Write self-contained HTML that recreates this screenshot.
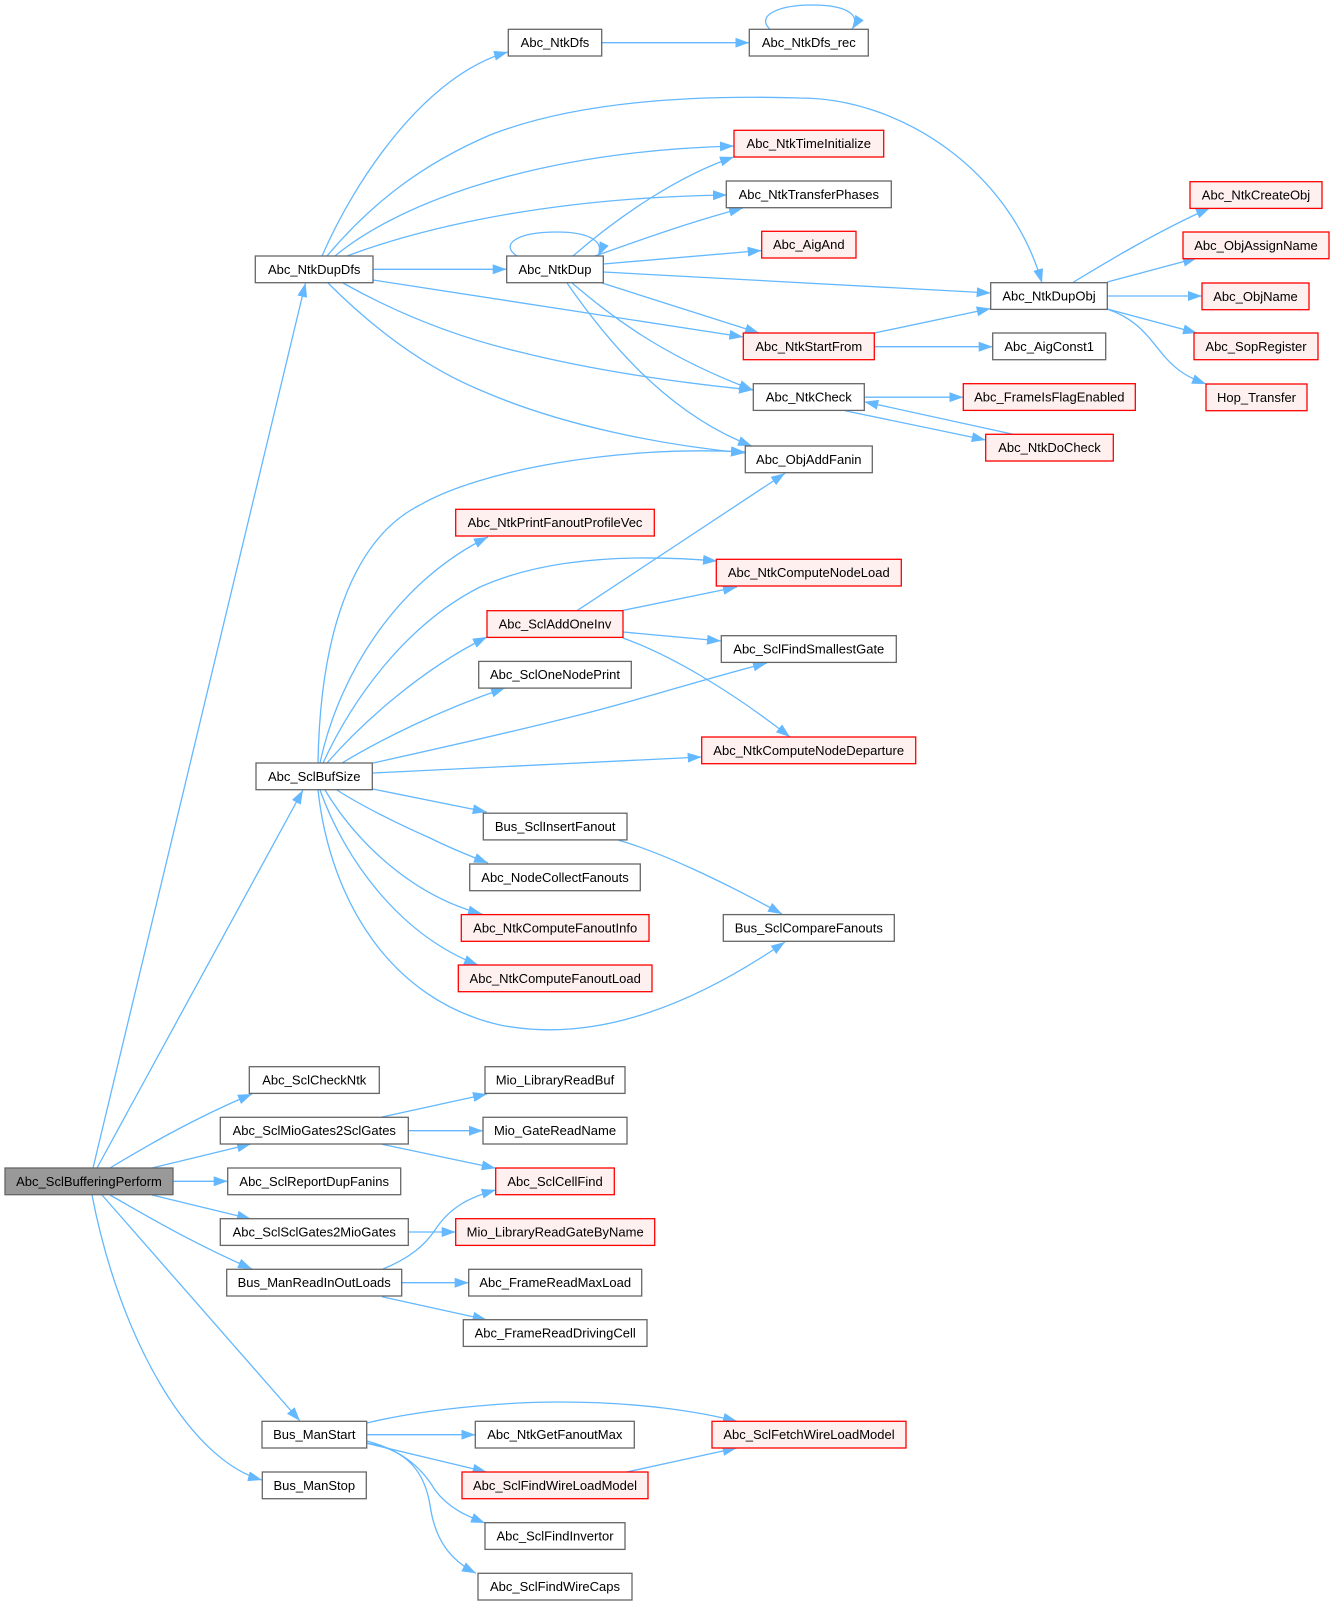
<!DOCTYPE html>
<html><head><meta charset="utf-8"><style>
html,body{margin:0;padding:0;background:#fff;}
svg{display:block;}
text{font-family:"Liberation Sans",Arial,Helvetica,sans-serif;font-size:13px;fill:#000;text-anchor:middle;}
.e{fill:none;stroke:#63b8ff;stroke-width:1.3;marker-end:url(#a);}
.n{fill:#fff;stroke:#666;stroke-width:1.3;}
.r{fill:#fff0f0;stroke:#ff0000;stroke-width:1.3;}
.g{fill:#999;stroke:#666;stroke-width:1.3;}
</style></head><body>
<svg width="1335" height="1605" viewBox="0 0 1335 1605" xmlns="http://www.w3.org/2000/svg">
<defs>
<marker id="a" markerUnits="userSpaceOnUse" markerWidth="16" markerHeight="12" refX="14" refY="5" orient="auto">
<path d="M0,0 L14,5 L0,10 z" fill="#63b8ff"/>
</marker>
</defs>
<g>
<path class="e" d="M93,1168 L305.5,283"/>
<path class="e" d="M97,1168 L303,790"/>
<path class="e" d="M110,1168 C140,1150 190,1120 252,1094"/>
<path class="e" d="M152,1168 L251,1144"/>
<path class="e" d="M173,1181.3 L227.7,1181.3"/>
<path class="e" d="M152,1195 L251,1219"/>
<path class="e" d="M110,1195 C140,1212 190,1242 252,1269"/>
<path class="e" d="M102,1195 L300,1421"/>
<path class="e" d="M92,1195 C120,1340 190,1460 262,1480"/>

<path class="e" d="M322,256 C355,180 425,75 508,52"/>
<path class="e" d="M327,256 C370,205 420,165 490,135 C580,100 700,95 800,98 C900,98 1010,170 1042,283"/>
<path class="e" d="M335,256 C390,210 520,152 734,146"/>
<path class="e" d="M347,256 C395,238 520,198 727,195"/>
<path class="e" d="M373,269.3 L506.7,269.3"/>
<path class="e" d="M373,280 L743.3,337"/>
<path class="e" d="M343,283 C400,315 460,338 520,352 C600,372 690,384 753,390"/>
<path class="e" d="M328,283 C370,325 420,365 480,390 C560,425 660,445 745,453"/>
<path class="e" d="M601.7,42.7 L749.3,42.7"/>
<path class="e" d="M770,29.3 C755,15 780,5 812,5 C845,5 862,14 852,29.3"/>
<path class="e" d="M517,256 C500,245 515,232 557,232 C590,232 605,242 598,256"/>
<path class="e" d="M573,256 C620,215 680,175 734,157"/>
<path class="e" d="M595,256 C640,240 690,222 743,208"/>
<path class="e" d="M603.3,264 L761.7,250.5"/>
<path class="e" d="M603.3,272 L990.7,293"/>
<path class="e" d="M602,283 L759,333"/>
<path class="e" d="M572,283 C610,315 660,355 753,390"/>
<path class="e" d="M567,283 C610,345 670,415 752,446"/>
<path class="e" d="M874.3,333 L990.7,308.5"/>
<path class="e" d="M874.3,346.7 L992.7,346.7"/>
<path class="e" d="M864.3,397.2 L963.3,397.2"/>
<path class="e" d="M845,410.7 L985.7,440"/>
<path class="e" d="M1013,434.3 L864.3,401.7"/>
<path class="e" d="M1072,283 C1110,260 1160,230 1210,208"/>
<path class="e" d="M1107.3,282 L1197,258"/>
<path class="e" d="M1107.3,296 L1202,296"/>
<path class="e" d="M1107.3,309 L1197,333"/>
<path class="e" d="M1107,309 C1140,320 1150,340 1165,357 C1178,372 1190,378 1206,384"/>

<path class="e" d="M318,763 C320,640 350,540 420,505 C480,470 620,445 745,452"/>
<path class="e" d="M320,763 C340,670 400,580 488,537"/>
<path class="e" d="M323,763 C352,700 405,625 480,587 C540,560 620,553 717,561"/>
<path class="e" d="M327,763 C360,725 420,670 487,637"/>
<path class="e" d="M342,763 C380,740 440,710 505,688"/>
<path class="e" d="M373,763 C450,746 520,730 575,716 C640,700 700,680 767,663"/>
<path class="e" d="M372.7,773 L701.7,757"/>
<path class="e" d="M372.7,789 L486.7,812"/>
<path class="e" d="M337,790 C360,805 400,825 430,838 C450,848 470,856 488,863"/>
<path class="e" d="M325,790 C355,840 410,895 482,914"/>
<path class="e" d="M320,790 C345,860 400,935 478,965"/>
<path class="e" d="M318,790 C330,900 390,1000 500,1025 C600,1045 700,1000 785,942"/>

<path class="e" d="M577,610.7 L785,473.3"/>
<path class="e" d="M620,611 L737,587"/>
<path class="e" d="M623,632 L721,641"/>
<path class="e" d="M623,638 C670,655 730,690 790,737"/>
<path class="e" d="M618,840 C660,852 720,880 782,914"/>

<path class="e" d="M382,1117 L487,1094"/>
<path class="e" d="M408.3,1130.7 L483,1130.7"/>
<path class="e" d="M382,1144.3 L495.7,1168.3"/>
<path class="e" d="M408.3,1232 L455.7,1232"/>
<path class="e" d="M383,1269 C410,1258 425,1245 435,1230 C450,1207 470,1197 495.7,1190"/>
<path class="e" d="M401.7,1282.7 L468.7,1282.7"/>
<path class="e" d="M382,1296.7 L486.7,1319.7"/>
<path class="e" d="M367,1423 C420,1410 500,1402 560,1402 C640,1402 700,1412 737,1421.3"/>
<path class="e" d="M366.7,1434.7 L475.3,1434.7"/>
<path class="e" d="M366.7,1443.3 L486.7,1472"/>
<path class="e" d="M367,1441 C400,1450 420,1465 435,1490 C450,1510 470,1517 485,1523"/>
<path class="e" d="M367,1443 C410,1450 425,1475 430,1505 C435,1540 450,1560 476,1573.3"/>
<path class="e" d="M626.7,1472 L736.7,1448"/>
</g>

<g>
<rect class="g" x="5" y="1168" width="168" height="26.7"/><text x="89" y="1185.8">Abc_SclBufferingPerform</text>
<rect class="n" x="255.3" y="256" width="117.7" height="26.7"/><text x="314.2" y="273.8">Abc_NtkDupDfs</text>
<rect class="n" x="256" y="763" width="116.3" height="26.7"/><text x="314.2" y="780.8">Abc_SclBufSize</text>
<rect class="n" x="249.3" y="1066.7" width="130" height="26.7"/><text x="314.3" y="1084.5">Abc_SclCheckNtk</text>
<rect class="n" x="220.3" y="1117.3" width="188" height="26.7"/><text x="314.3" y="1135.1">Abc_SclMioGates2SclGates</text>
<rect class="n" x="227.7" y="1168" width="173" height="26.7"/><text x="314.2" y="1185.8">Abc_SclReportDupFanins</text>
<rect class="n" x="220.3" y="1218.7" width="188" height="26.7"/><text x="314.3" y="1236.5">Abc_SclSclGates2MioGates</text>
<rect class="n" x="226.7" y="1269.3" width="175" height="26.7"/><text x="314.2" y="1287.1">Bus_ManReadInOutLoads</text>
<rect class="n" x="262" y="1421.3" width="104.7" height="26.7"/><text x="314.3" y="1439.1">Bus_ManStart</text>
<rect class="n" x="262.3" y="1472" width="104" height="26.7"/><text x="314.3" y="1489.8">Bus_ManStop</text>

<rect class="n" x="508.3" y="29.3" width="93.4" height="26.7"/><text x="555" y="47.1">Abc_NtkDfs</text>
<rect class="n" x="506.7" y="256" width="96.6" height="26.7"/><text x="555" y="273.8">Abc_NtkDup</text>
<rect class="r" x="455.7" y="509.3" width="198.6" height="26.7"/><text x="555" y="527.1">Abc_NtkPrintFanoutProfileVec</text>
<rect class="r" x="487" y="610.7" width="136" height="26.7"/><text x="555" y="628.5">Abc_SclAddOneInv</text>
<rect class="n" x="478.7" y="661.4" width="152.6" height="26.7"/><text x="555" y="679.2">Abc_SclOneNodePrint</text>
<rect class="n" x="483.3" y="813.2" width="143.7" height="26.7"/><text x="555.2" y="831">Bus_SclInsertFanout</text>
<rect class="n" x="469.7" y="864" width="170.6" height="26.7"/><text x="555" y="881.8">Abc_NodeCollectFanouts</text>
<rect class="r" x="461.3" y="914.6" width="187.7" height="26.7"/><text x="555.2" y="932.4">Abc_NtkComputeFanoutInfo</text>
<rect class="r" x="458.3" y="965" width="193.7" height="26.7"/><text x="555.2" y="982.8">Abc_NtkComputeFanoutLoad</text>
<rect class="n" x="485" y="1066.7" width="140" height="26.7"/><text x="555" y="1084.5">Mio_LibraryReadBuf</text>
<rect class="n" x="483" y="1117.3" width="144" height="26.7"/><text x="555" y="1135.1">Mio_GateReadName</text>
<rect class="r" x="495.7" y="1168" width="118.6" height="26.7"/><text x="555" y="1185.8">Abc_SclCellFind</text>
<rect class="r" x="455.7" y="1218.7" width="199" height="26.7"/><text x="555.2" y="1236.5">Mio_LibraryReadGateByName</text>
<rect class="n" x="468.7" y="1269.3" width="173" height="26.7"/><text x="555.2" y="1287.1">Abc_FrameReadMaxLoad</text>
<rect class="n" x="463.3" y="1319.7" width="183.7" height="26.7"/><text x="555.2" y="1337.5">Abc_FrameReadDrivingCell</text>
<rect class="n" x="475.3" y="1421.3" width="159" height="26.7"/><text x="554.8" y="1439.1">Abc_NtkGetFanoutMax</text>
<rect class="r" x="462" y="1472" width="186" height="26.7"/><text x="555" y="1489.8">Abc_SclFindWireLoadModel</text>
<rect class="n" x="485" y="1522.7" width="140" height="26.7"/><text x="555" y="1540.5">Abc_SclFindInvertor</text>
<rect class="n" x="478" y="1573.3" width="154" height="26.7"/><text x="555" y="1591.1">Abc_SclFindWireCaps</text>

<rect class="n" x="749.3" y="29.3" width="119" height="26.7"/><text x="808.8" y="47.1">Abc_NtkDfs_rec</text>
<rect class="r" x="734" y="130.3" width="149.7" height="26.7"/><text x="808.8" y="148.1">Abc_NtkTimeInitialize</text>
<rect class="n" x="726.3" y="181" width="165" height="26.7"/><text x="808.8" y="198.8">Abc_NtkTransferPhases</text>
<rect class="r" x="761.7" y="231.3" width="94.3" height="26.7"/><text x="808.8" y="249.1">Abc_AigAnd</text>
<rect class="r" x="743.3" y="333" width="131" height="26.7"/><text x="808.8" y="350.8">Abc_NtkStartFrom</text>
<rect class="n" x="753.3" y="383.7" width="111" height="26.7"/><text x="808.8" y="401.5">Abc_NtkCheck</text>
<rect class="n" x="745.3" y="446" width="127" height="26.7"/><text x="808.8" y="463.8">Abc_ObjAddFanin</text>
<rect class="r" x="716.3" y="559.3" width="185" height="26.7"/><text x="808.8" y="577.1">Abc_NtkComputeNodeLoad</text>
<rect class="n" x="721.3" y="635.7" width="175" height="26.7"/><text x="808.8" y="653.5">Abc_SclFindSmallestGate</text>
<rect class="r" x="701.7" y="737" width="214" height="26.7"/><text x="808.7" y="754.8">Abc_NtkComputeNodeDeparture</text>
<rect class="n" x="723.3" y="914.6" width="171" height="26.7"/><text x="808.8" y="932.4">Bus_SclCompareFanouts</text>
<rect class="r" x="712" y="1421.3" width="194" height="26.7"/><text x="809" y="1439.1">Abc_SclFetchWireLoadModel</text>

<rect class="n" x="990.7" y="282.7" width="116.6" height="26.7"/><text x="1049" y="300.5">Abc_NtkDupObj</text>
<rect class="n" x="992.7" y="333" width="113" height="26.7"/><text x="1049.2" y="350.8">Abc_AigConst1</text>
<rect class="r" x="963.3" y="383.7" width="172" height="26.7"/><text x="1049.3" y="401.5">Abc_FrameIsFlagEnabled</text>
<rect class="r" x="985.7" y="434.3" width="127.6" height="26.7"/><text x="1049.5" y="452.1">Abc_NtkDoCheck</text>

<rect class="r" x="1190" y="181.7" width="132" height="26.7"/><text x="1256" y="199.5">Abc_NtkCreateObj</text>
<rect class="r" x="1183" y="232" width="146" height="26.7"/><text x="1256" y="249.8">Abc_ObjAssignName</text>
<rect class="r" x="1202" y="283" width="107" height="26.7"/><text x="1255.5" y="300.8">Abc_ObjName</text>
<rect class="r" x="1194" y="333" width="124" height="26.7"/><text x="1256" y="350.8">Abc_SopRegister</text>
<rect class="r" x="1206" y="384" width="101" height="26.7"/><text x="1256.5" y="401.8">Hop_Transfer</text>
</g>
</svg>
</body></html>
